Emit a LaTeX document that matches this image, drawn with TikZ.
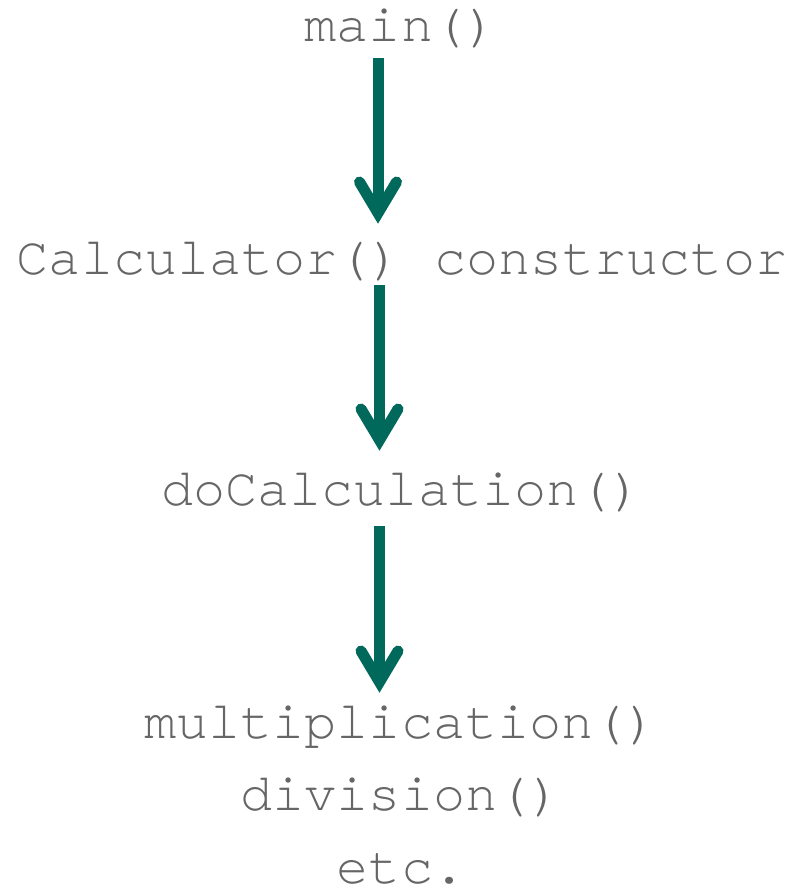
\documentclass[tikz,border=0pt]{standalone}
\usepackage{fontspec}
\setmonofont{TeX Gyre Cursor}
\definecolor{callgray}{HTML}{666666}
\definecolor{callteal}{HTML}{00695C}
\begin{document}
\begin{tikzpicture}[x=1pt,y=-1pt,
  label/.style={font=\ttfamily\fontsize{53.5}{53.5}\selectfont, text=callgray,
    anchor=base, inner sep=0pt},
  shaft/.style={draw=callteal, line width=11pt, line cap=butt},
  barb/.style={draw=callteal, line width=11pt, line cap=round, line join=miter}]
\useasboundingbox (0,0) rectangle (788,890);

% call chain labels
\node[label] (main) at (401,42) {main()};
\node[label] (ctor) at (402,275) {Calculator() constructor};
\node[label] (calc) at (402,505) {doCalculation()};
\node[label] (mult) at (401,738) {multiplication()};
\node[label] (divi) at (401,810) {division()};
\node[label] (etc)  at (401,883) {etc.};

% arrow shaft ends and tip vertices
\coordinate (s1) at (378,58);    \coordinate (v1) at (378,213);
\coordinate (s2) at (379.5,285); \coordinate (v2) at (379.5,440);
\coordinate (s3) at (379.5,526); \coordinate (v3) at (379.5,682);

\foreach \s/\v in {s1/v1, s2/v2, s3/v3} {
  \draw[shaft] (\s) -- (\v);
  \draw[barb] ([shift={(-18.5,-31)}]\v) -- (\v) -- ([shift={(18.5,-31)}]\v);
}
\end{tikzpicture}
\end{document}
